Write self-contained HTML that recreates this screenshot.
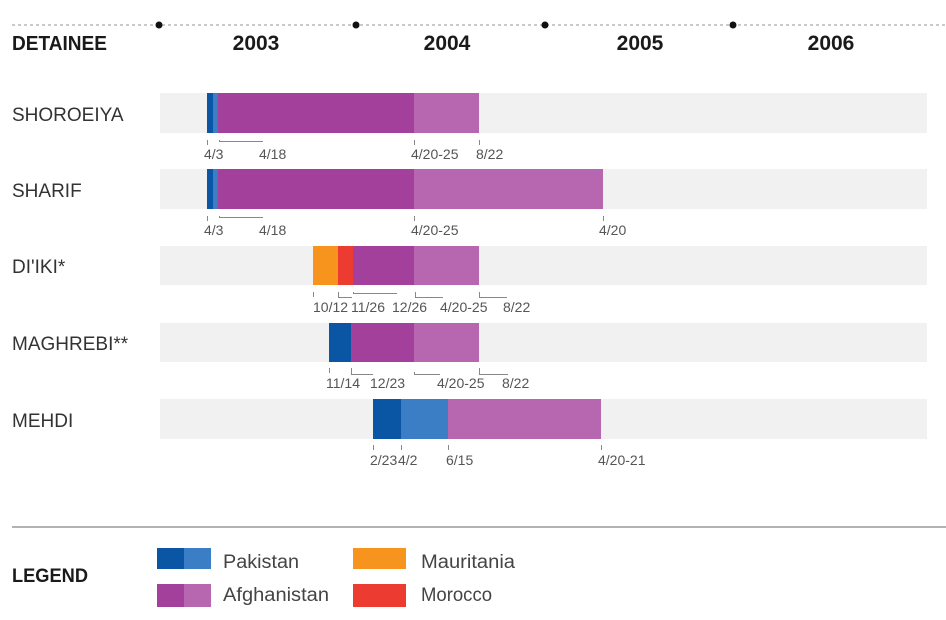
<!DOCTYPE html>
<html>
<head>
<meta charset="utf-8">
<style>
html,body{margin:0;padding:0;background:#fff;}
svg{display:block;}
text{font-family:"Liberation Sans",sans-serif;}
.h{font-weight:bold;font-size:20px;fill:#1a1a1a;}
.n{font-size:19px;fill:#333;}
.l{font-size:14px;fill:#555;}
.t{stroke:#888;stroke-width:1;fill:none;}
.lg{font-size:19px;fill:#444;}
</style>
</head>
<body>
<svg width="946" height="620" viewBox="0 0 946 620" xmlns="http://www.w3.org/2000/svg">
<!-- top dotted line -->
<line x1="12" y1="25" x2="946" y2="25" stroke="#aaa" stroke-width="1.3" stroke-dasharray="3 3"/>
<circle cx="159" cy="25" r="3.5" fill="#111"/>
<circle cx="356" cy="25" r="3.5" fill="#111"/>
<circle cx="545" cy="25" r="3.5" fill="#111"/>
<circle cx="733" cy="25" r="3.5" fill="#111"/>
<text class="h" x="12" y="50" textLength="95" lengthAdjust="spacingAndGlyphs">DETAINEE</text>
<text class="h" x="256" y="50" text-anchor="middle" style="font-size:21px">2003</text>
<text class="h" x="447" y="50" text-anchor="middle" style="font-size:21px">2004</text>
<text class="h" x="640" y="50" text-anchor="middle" style="font-size:21px">2005</text>
<text class="h" x="831" y="50" text-anchor="middle" style="font-size:21px">2006</text>

<!-- row backgrounds -->
<rect x="160" y="93" width="767" height="40" fill="#f1f1f2"/>
<rect x="160" y="169" width="767" height="40" fill="#f1f1f2"/>
<rect x="160" y="246" width="767" height="39" fill="#f1f1f2"/>
<rect x="160" y="323" width="767" height="39" fill="#f1f1f2"/>
<rect x="160" y="399" width="767" height="40" fill="#f1f1f2"/>

<!-- names -->
<text class="n" x="12" y="121">SHOROEIYA</text>
<text class="n" x="12" y="197">SHARIF</text>
<text class="n" x="12" y="273">DI'IKI*</text>
<text class="n" x="12" y="350">MAGHREBI**</text>
<text class="n" x="12" y="427">MEHDI</text>

<!-- SHOROEIYA -->
<rect x="207" y="93" width="6" height="40" fill="#0b56a4"/>
<rect x="213" y="93" width="5" height="40" fill="#3b7ec5"/>
<rect x="218" y="93" width="196" height="40" fill="#a3409c"/>
<rect x="414" y="93" width="65" height="40" fill="#b767b0"/>
<path class="t" d="M207.5 140v5 M219.5 140v2 M219.5 141.5H263 M414.5 140v5 M479.5 140v5"/>
<text class="l" x="204" y="159">4/3</text>
<text class="l" x="259" y="159">4/18</text>
<text class="l" x="411" y="159">4/20-25</text>
<text class="l" x="476" y="159">8/22</text>

<!-- SHARIF -->
<rect x="207" y="169" width="6" height="40" fill="#0b56a4"/>
<rect x="213" y="169" width="5" height="40" fill="#3b7ec5"/>
<rect x="218" y="169" width="196" height="40" fill="#a3409c"/>
<rect x="414" y="169" width="189" height="40" fill="#b767b0"/>
<path class="t" d="M207.5 216v5 M219.5 216v2 M219.5 217.5H263 M414.5 216v5 M603.5 216v5"/>
<text class="l" x="204" y="235">4/3</text>
<text class="l" x="259" y="235">4/18</text>
<text class="l" x="411" y="235">4/20-25</text>
<text class="l" x="599" y="235">4/20</text>

<!-- DI'IKI -->
<rect x="313" y="246" width="25" height="39" fill="#f7941e"/>
<rect x="338" y="246" width="15" height="39" fill="#ec3b30"/>
<rect x="353" y="246" width="61" height="39" fill="#a3409c"/>
<rect x="414" y="246" width="65" height="39" fill="#b767b0"/>
<path class="t" d="M313.5 292v5 M338.5 292v6 M338.5 297.5H352 M353.5 292v2 M353.5 293.5H397 M415.5 292v6 M415.5 297.5H443 M479.5 292v6 M479.5 297.5H507"/>
<text class="l" x="313" y="312">10/12</text>
<text class="l" x="351" y="312">11/26</text>
<text class="l" x="392" y="312">12/26</text>
<text class="l" x="440" y="312">4/20-25</text>
<text class="l" x="503" y="312">8/22</text>

<!-- MAGHREBI -->
<rect x="329" y="323" width="22" height="39" fill="#0b56a4"/>
<rect x="351" y="323" width="63" height="39" fill="#a3409c"/>
<rect x="414" y="323" width="65" height="39" fill="#b767b0"/>
<path class="t" d="M329.5 368v5 M351.5 368v7 M351.5 374.5H373 M414.5 372v3 M414.5 374.5H440 M479.5 368v7 M479.5 374.5H508"/>
<text class="l" x="326" y="388">11/14</text>
<text class="l" x="370" y="388">12/23</text>
<text class="l" x="437" y="388">4/20-25</text>
<text class="l" x="502" y="388">8/22</text>

<!-- MEHDI -->
<rect x="373" y="399" width="28" height="40" fill="#0b56a4"/>
<rect x="401" y="399" width="47" height="40" fill="#3b7ec5"/>
<rect x="448" y="399" width="153" height="40" fill="#b767b0"/>
<path class="t" d="M373.5 445v5 M401.5 445v5 M448.5 445v5 M601.5 445v5"/>
<text class="l" x="370" y="465">2/23</text>
<text class="l" x="398" y="465">4/2</text>
<text class="l" x="446" y="465">6/15</text>
<text class="l" x="598" y="465">4/20-21</text>

<!-- legend -->
<line x1="12" y1="527" x2="946" y2="527" stroke="#999" stroke-width="1.5"/>
<text class="h" x="12" y="582" style="font-size:19px" textLength="76" lengthAdjust="spacingAndGlyphs">LEGEND</text>
<rect x="157" y="548" width="27" height="21" fill="#0b56a4"/>
<rect x="184" y="548" width="27" height="21" fill="#3b7ec5"/>
<rect x="157" y="584" width="27" height="23" fill="#a3409c"/>
<rect x="184" y="584" width="27" height="23" fill="#b767b0"/>
<rect x="353" y="548" width="53" height="21" fill="#f7941e"/>
<rect x="353" y="584" width="53" height="23" fill="#ec3b30"/>
<text class="lg" x="223" y="568" textLength="76" lengthAdjust="spacingAndGlyphs">Pakistan</text>
<text class="lg" x="223" y="601" textLength="106" lengthAdjust="spacingAndGlyphs">Afghanistan</text>
<text class="lg" x="421" y="568" textLength="94" lengthAdjust="spacingAndGlyphs">Mauritania</text>
<text class="lg" x="421" y="601" textLength="71" lengthAdjust="spacingAndGlyphs">Morocco</text>
</svg>
</body>
</html>
